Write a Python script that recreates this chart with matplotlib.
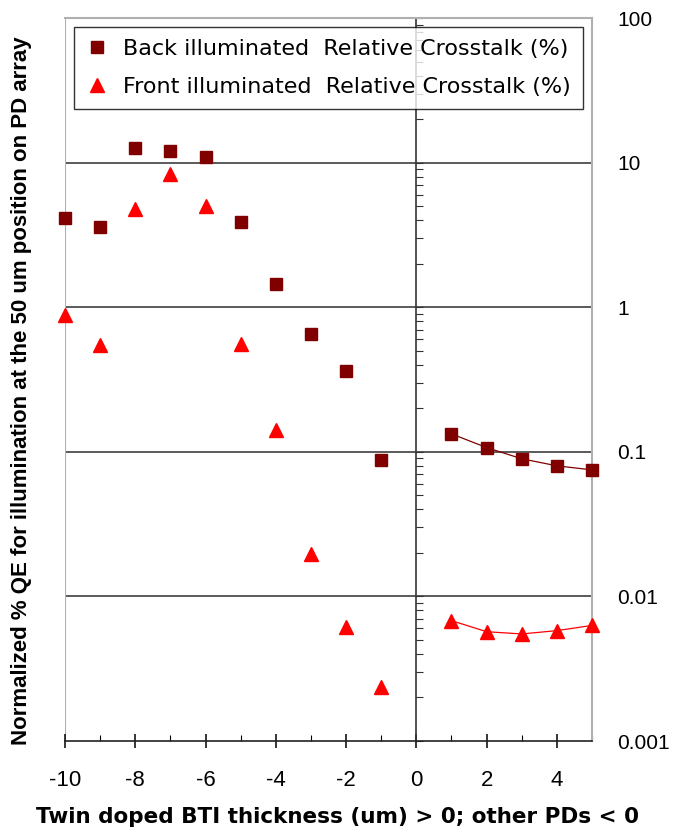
import numpy as np
import matplotlib
matplotlib.use("Agg")
import matplotlib.pyplot as plt
from matplotlib.ticker import LogLocator, NullFormatter, FixedLocator

plt.rcParams['font.family'] = ['Liberation Sans', 'DejaVu Sans']
plt.rcParams['axes.unicode_minus'] = False

# x positions (um); negative = other PDs, positive = twin doped BTI
x_neg = [-10, -9, -8, -7, -6, -5, -4, -3, -2, -1]
x_pos = [1, 2, 3, 4, 5]

back_neg = [4.15, 3.6, 12.6, 12.0, 10.9, 3.9, 1.45, 0.655, 0.363, 0.088]
back_pos = [0.133, 0.107, 0.0895, 0.080, 0.075]

front_neg = [0.89, 0.55, 4.8, 8.35, 5.0, 0.56, 0.142, 0.0195, 0.0061, 0.00238]
front_pos = [0.0068, 0.0057, 0.0055, 0.0058, 0.0063]

y_ticks = [0.001, 0.01, 0.1, 1, 10, 100]
y_tick_labels = ["0.001", "0.01", "0.1", "1", "10", "100"]
x_ticks = [-10, -8, -6, -4, -2, 0, 2, 4]

BACK_C = "#800000"
FRONT_C = "#ff0000"

fig = plt.figure(figsize=(6.79, 8.34), dpi=100)
ax = fig.add_axes([0.0957, 0.1115, 0.7762, 0.8669])

ax.set_yscale("log")
ax.set_xlim(-10, 5)
ax.set_ylim(0.001, 100)

# gridlines at each decade
for yv in y_ticks[1:-1]:
    ax.axhline(yv, color="#5a5a5a", lw=1.4, zorder=1)
ax.axvline(-10, color="#b0b0b0", lw=1.5, zorder=1)

# data
ax.plot(x_neg, back_neg, ls="none", marker="s", ms=8.5, color=BACK_C,
        mec=BACK_C, zorder=3, clip_on=False,
        label="Back illuminated  Relative Crosstalk (%)")
ax.plot(x_pos, back_pos, ls="-", lw=0.9, marker="s", ms=8.5, color=BACK_C,
        mec=BACK_C, zorder=3, clip_on=False)
ax.plot(x_neg, front_neg, ls="none", marker="^", ms=9.5, color=FRONT_C,
        mec=FRONT_C, zorder=3, clip_on=False,
        label="Front illuminated  Relative Crosstalk (%)")
ax.plot(x_pos, front_pos, ls="-", lw=0.9, marker="^", ms=9.5, color=FRONT_C,
        mec=FRONT_C, zorder=3, clip_on=False)

# spines: y axis line at x=0, light grey frame elsewhere
ax.spines["left"].set_position(("data", 0))
ax.spines["left"].set_color("#333333")
ax.spines["left"].set_linewidth(1.2)
for s in ["top", "right"]:
    ax.spines[s].set_color("#b0b0b0")
    ax.spines[s].set_linewidth(1.5)
ax.spines["bottom"].set_color("#222222")
ax.spines["bottom"].set_linewidth(1.2)

ax.yaxis.set_major_locator(FixedLocator(y_ticks))
ax.set_yticklabels(y_tick_labels)
ax.yaxis.set_minor_locator(LogLocator(base=10, subs=np.arange(2, 10)))
ax.yaxis.set_minor_formatter(NullFormatter())
ax.tick_params(axis="y", which="both", left=True, right=False,
               labelleft=False, labelright=True, direction="in",
               color="#333333")
ax.tick_params(axis="y", which="major", length=5, pad=18, labelsize=15)
ax.tick_params(axis="y", which="minor", length=5, width=0.8)
for lab in ax.get_yticklabels():
    lab.set_horizontalalignment("left")

ax.set_xticks(x_ticks)
ax.set_xticks([-9, -7, -5, -3, -1, 1, 3, 5], minor=True)
ax.tick_params(axis="x", which="major", direction="inout", length=10,
               width=1.1, labelsize=16, pad=16)
ax.tick_params(axis="x", which="minor", direction="in", length=4, width=0.8)

ax.set_xlabel("Twin doped BTI thickness (um) > 0; other PDs < 0",
              fontsize=15.5, fontweight="bold", family=["DejaVu Sans"],
              va="center")
ax.xaxis.set_label_coords(338 / 679, 1 - 817 / 834, transform=fig.transFigure)
fig.text(0.032, 0.532,
         "Normalized % QE for illumination at the 50 um position on PD array",
         rotation=90, ha="center", va="center", fontsize=16, fontweight="bold")

leg = ax.legend(loc="upper left", bbox_to_anchor=(0.017, 0.9876),
                borderaxespad=0, prop={"family": "DejaVu Sans", "size": 16},
                frameon=True, fancybox=False,
                edgecolor="black", handletextpad=0.65, labelspacing=0.8,
                borderpad=0.55, handlelength=1.0)
leg.get_frame().set_linewidth(1.0)

fig.savefig("out.png", dpi=100)
